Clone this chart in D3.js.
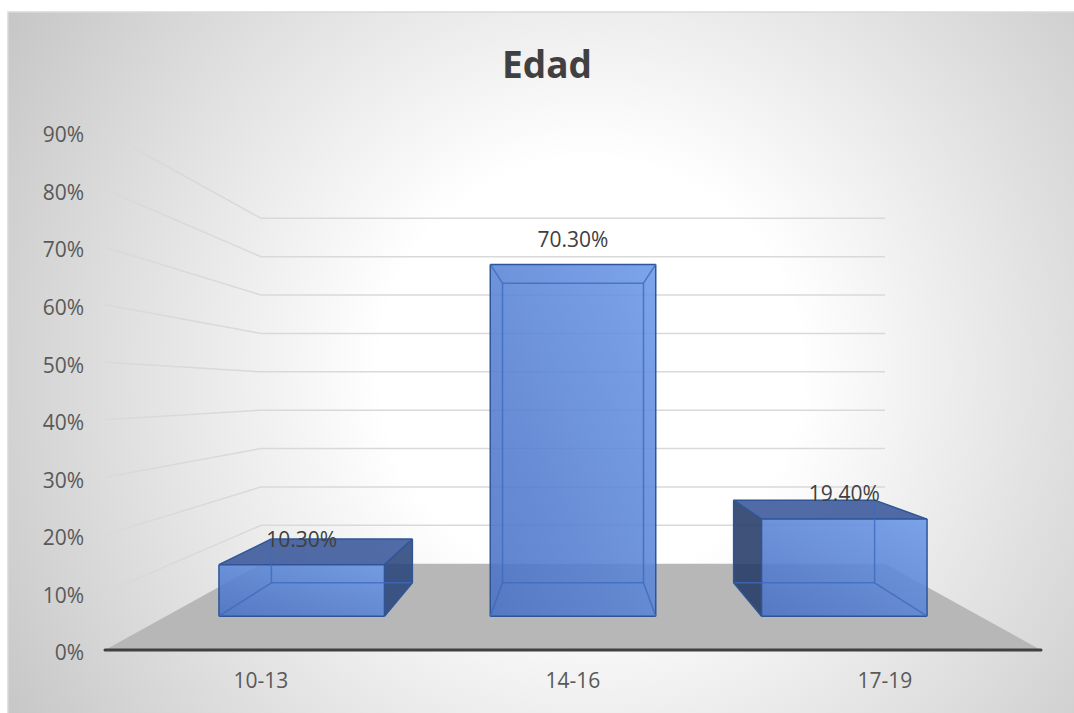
<!DOCTYPE html>
<html>
<head>
<meta charset="utf-8">
<script src="https://cdn.jsdelivr.net/npm/d3@7"></script>
<style>
  body { margin: 0; background: #ffffff; }
  text { font-family: "Open Sans", sans-serif; }
</style>
</head>
<body>
<div id="my_dataviz"></div>
<script>
// chart data
var title = "Edad";
var categories = ["10-13", "14-16", "17-19"];
var values = [0.103, 0.703, 0.194];
var valueLabels = ["10.30%", "70.30%", "19.40%"];
var yTicks = [0, 0.1, 0.2, 0.3, 0.4, 0.5, 0.6, 0.7, 0.8, 0.9];
var yTickLabels = ["0%", "10%", "20%", "30%", "40%", "50%", "60%", "70%", "80%", "90%"];

var width = 1074,
  height = 713;

var svg = d3
  .select("#my_dataviz")
  .append("svg")
  .attr("width", width)
  .attr("height", height);

var defs = svg.append("defs");

// radial background, white in the middle, grey at the edges
var bg = defs
  .append("radialGradient")
  .attr("id", "bg")
  .attr("gradientUnits", "userSpaceOnUse")
  .attr("cx", 590)
  .attr("cy", 370)
  .attr("r", 700);
bg.append("stop").attr("offset", "0").attr("stop-color", "#ffffff");
bg.append("stop").attr("offset", "0.3").attr("stop-color", "#ffffff");
bg.append("stop").attr("offset", "1").attr("stop-color", "#c4c4c4");

// front face colour, lighter at the top right
var faceGrad = defs
  .append("linearGradient")
  .attr("id", "face")
  .attr("x1", 1).attr("y1", 0)
  .attr("x2", 0).attr("y2", 1);
faceGrad.append("stop").attr("offset", "0").attr("stop-color", "#6a98e8");
faceGrad.append("stop").attr("offset", "1").attr("stop-color", "#4870c4");

svg
  .append("rect")
  .attr("x", 8)
  .attr("y", 12)
  .attr("width", 1070)
  .attr("height", 705)
  .attr("fill", "url(#bg)")
  .attr("stroke", "#d9d9d9")
  .attr("stroke-width", 1.5);

// scales on the front plane of the 3d box
var x = d3
  .scaleBand()
  .domain(categories)
  .range([105, 1041])
  .paddingInner(0.39)
  .paddingOuter(0.195);

var y = d3.scaleLinear().domain([0, 0.9]).range([650, 132]);

// one point perspective: vanishing point and depth (0 = front, 1 = back wall)
var vp = [573, 391];
function project(px, py, z) {
  var s = 1 / (1 + 0.5 * z);
  return [vp[0] + (px - vp[0]) * s, vp[1] + (py - vp[1]) * s];
}
var line = d3.line();

var xLeft = x.range()[0],
  xRight = x.range()[1];

// gridlines on the side wall and back wall
svg
  .append("g")
  .selectAll("path")
  .data(yTicks.slice(1))
  .enter()
  .append("path")
  .attr("d", function (t) {
    return line([
      project(xLeft, y(t), 0),
      project(xLeft, y(t), 1),
      project(xRight, y(t), 1)
    ]);
  })
  .attr("fill", "none")
  .attr("stroke", "#d9d9d9")
  .attr("stroke-width", 1.5);

// floor
svg
  .append("path")
  .attr("d", line([
    project(xLeft, y(0), 0),
    project(xRight, y(0), 0),
    project(xRight, y(0), 1),
    project(xLeft, y(0), 1)
  ]) + "Z")
  .attr("fill", "#b7b7b7");

svg
  .append("path")
  .attr("d", line([project(xLeft, y(0), 0), project(xRight, y(0), 0)]))
  .attr("stroke", "#404040")
  .attr("stroke-width", 3)
  .attr("stroke-linecap", "round");

// y axis labels
svg
  .append("g")
  .selectAll("text")
  .data(yTicks)
  .enter()
  .append("text")
  .attr("x", 84)
  .attr("y", function (t) { return y(t) + 3; })
  .attr("dy", "0.35em")
  .attr("text-anchor", "end")
  .attr("font-size", 21)
  .attr("fill", "#595959")
  .text(function (t, i) { return yTickLabels[i]; });

// x axis labels
svg
  .append("g")
  .selectAll("text")
  .data(categories)
  .enter()
  .append("text")
  .attr("x", function (d) { return x(d) + x.bandwidth() / 2; })
  .attr("y", 681)
  .attr("dy", "0.35em")
  .attr("text-anchor", "middle")
  .attr("font-size", 21)
  .attr("fill", "#595959")
  .text(function (d) { return d; });

// the bars
var zFront = 0.3,
  zBack = 0.7;

// corners: 0 fbl 1 fbr 2 ftr 3 ftl 4 bbl 5 bbr 6 btr 7 btl
var edges = [[0,1],[1,2],[2,3],[3,0],[4,5],[5,6],[6,7],[7,4],[0,4],[1,5],[2,6],[3,7]];

categories.forEach(function (cat, i) {
  var x0 = x(cat),
    x1 = x0 + x.bandwidth(),
    yb = y(0),
    yt = y(values[i]);

  var c = [
    project(x0, yb, zFront), project(x1, yb, zFront),
    project(x1, yt, zFront), project(x0, yt, zFront),
    project(x0, yb, zBack), project(x1, yb, zBack),
    project(x1, yt, zBack), project(x0, yt, zBack)
  ];

  var faces = [];
  if (x1 < vp[0]) faces.push({ pts: [1, 5, 6, 2], fill: "#2a457c" });
  if (x0 > vp[0]) faces.push({ pts: [0, 4, 7, 3], fill: "#243a66" });
  if (yt > vp[1]) faces.push({ pts: [3, 2, 6, 7], fill: "#385799" });
  faces.push({ pts: [0, 1, 2, 3], fill: "url(#face)" });

  var g = svg.append("g");

  g.selectAll("path.face")
    .data(faces)
    .enter()
    .append("path")
    .attr("class", "face")
    .attr("d", function (f) {
      return line(f.pts.map(function (k) { return c[k]; })) + "Z";
    })
    .attr("fill", function (f) { return f.fill; })
    .attr("fill-opacity", 0.88);

  // which edges belong to a visible face
  var seen = {};
  faces.forEach(function (f) {
    for (var k = 0; k < 4; k++) {
      var a = f.pts[k], b = f.pts[(k + 1) % 4];
      seen[Math.min(a, b) + "-" + Math.max(a, b)] = true;
    }
  });

  g.selectAll("path.edge")
    .data(edges)
    .enter()
    .append("path")
    .attr("class", "edge")
    .attr("d", function (e) { return line([c[e[0]], c[e[1]]]); })
    .attr("stroke", function (e) {
      return seen[Math.min(e[0], e[1]) + "-" + Math.max(e[0], e[1])] ? "#2f5597" : "#3c6bbd";
    })
    .attr("stroke-opacity", function (e) {
      return seen[Math.min(e[0], e[1]) + "-" + Math.max(e[0], e[1])] ? 1 : 0.8;
    })
    .attr("stroke-width", 1.5);

  // data label above the front face
  var top = project((x0 + x1) / 2, yt, zFront);
  svg
    .append("text")
    .attr("x", top[0])
    .attr("y", top[1] - 25)
    .attr("dy", "0.35em")
    .attr("text-anchor", "middle")
    .attr("font-size", 21)
    .attr("fill", "#404040")
    .text(valueLabels[i]);
});

// title
svg
  .append("text")
  .attr("x", 547)
  .attr("y", 78)
  .attr("text-anchor", "middle")
  .attr("font-size", 37)
  .attr("font-weight", "bold")
  .attr("fill", "#404040")
  .text(title);
</script>
</body>
</html>
